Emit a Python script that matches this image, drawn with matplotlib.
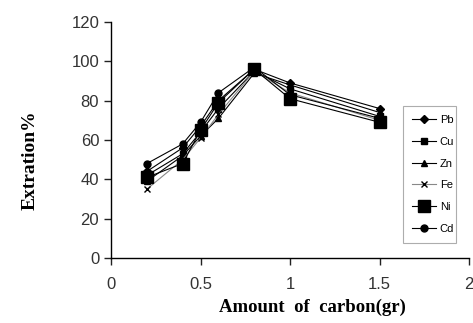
import matplotlib
matplotlib.use("Agg")
import matplotlib.pyplot as plt

# carbon amount (gr) and extraction % per metal
carbon = [0.2, 0.4, 0.5, 0.6, 0.8, 1.0, 1.5]
pb = [44, 56, 67, 80, 96, 89, 76]
cu = [42, 53, 64, 76, 95, 86, 72]
zn = [39, 52, 62, 71, 94, 88, 74]
fe = [35, 50, 61, 73, 95, 84, 70]
ni = [41, 48, 65, 79, 96, 81, 69]
cd = [48, 58, 69, 84, 97, 83, 71]

x_ticks = [0, 0.5, 1, 1.5, 2]
x_tick_labels = ["0", "0.5", "1", "1.5", "2"]
y_ticks = [0, 20, 40, 60, 80, 100, 120]

fig = plt.figure(figsize=(4.73, 3.23), dpi=100)
ax = fig.add_axes([0.2347, 0.2012, 0.757, 0.7307])

ax.plot(carbon, pb, color="black", lw=0.8, marker="D", ms=4, label="Pb")
ax.plot(carbon, cu, color="black", lw=0.8, marker="s", ms=4.5, label="Cu")
ax.plot(carbon, zn, color="black", lw=0.8, marker="^", ms=5, label="Zn")
ax.plot(carbon, fe, color="#888888", lw=0.8, marker="x", ms=5, mec="black", label="Fe")
ax.plot(carbon, ni, color="black", lw=0.8, marker="s", ms=9, label="Ni")
ax.plot(carbon, cd, color="black", lw=0.8, marker="o", ms=5, label="Cd")

ax.set_xlim(0, 2)
ax.set_ylim(0, 120)
ax.set_xticks(x_ticks)
ax.set_xticklabels(x_tick_labels)
ax.set_yticks(y_ticks)
for s in ["top", "right"]:
    ax.spines[s].set_visible(False)
ax.spines["left"].set_linewidth(1.0)
ax.spines["bottom"].set_linewidth(1.0)
ax.tick_params(direction="out", length=5, width=1, labelsize=12, colors="#222222")
ax.tick_params(axis="x", pad=9)
for lbl in ax.get_xticklabels() + ax.get_yticklabels():
    lbl.set_family("Liberation Sans")
    lbl.set_color("#333333")

fig.text(30 / 473, 1 - 160 / 323, "Extration%", family="Liberation Serif", fontweight="bold",
         fontsize=14, rotation=90, ha="center", va="center")
fig.text(312 / 473, 1 - 307 / 323, "Amount  of  carbon(gr)", family="Liberation Serif",
         fontweight="bold", fontsize=13.5, ha="center", va="center")

leg = ax.legend(loc="lower left", bbox_to_anchor=(0.80, 0.042, 0.18, 0.63), mode="expand",
                fontsize=8, frameon=True, fancybox=False, handlelength=2.2,
                labelspacing=1.05, borderpad=0.8, handletextpad=0.3)
leg.get_frame().set_edgecolor("#999999")
leg.get_frame().set_linewidth(0.8)
for t in leg.get_texts():
    t.set_family("Liberation Sans")

fig.savefig("out.png", dpi=100)
